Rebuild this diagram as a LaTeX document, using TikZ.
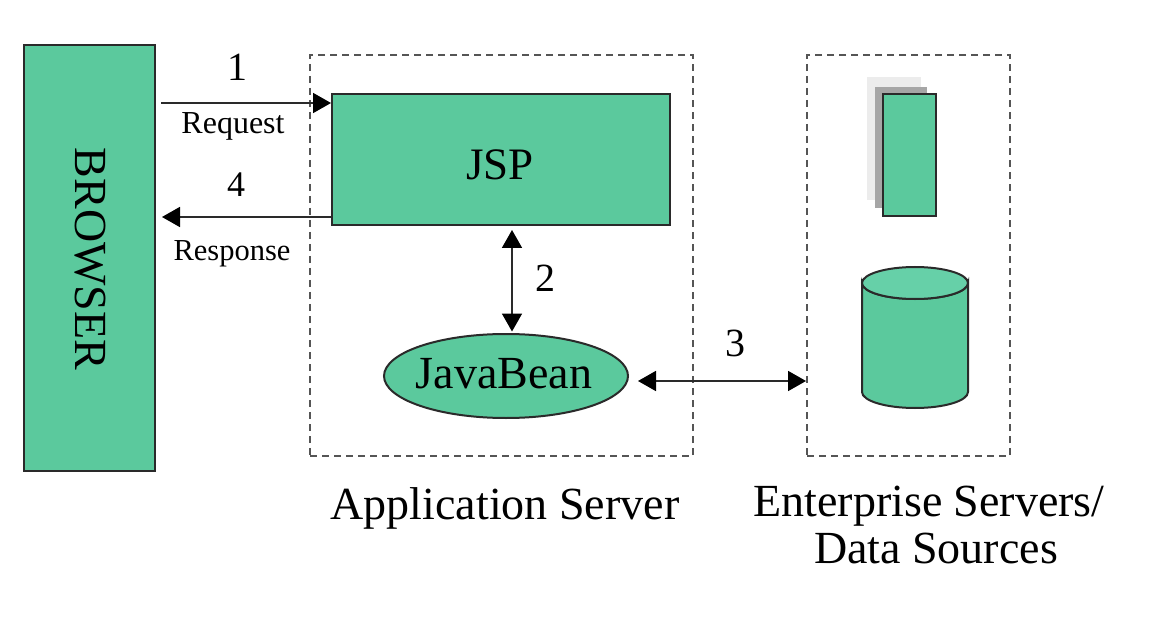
\documentclass[tikz,border=0pt]{standalone}
\usepackage{fontspec}
\setmainfont{Liberation Serif}
\usetikzlibrary{arrows.meta,shapes.geometric}
\definecolor{grn}{HTML}{5BC99D}
\definecolor{grnl}{HTML}{66D0A8}
\definecolor{ln}{HTML}{2A2A2A}
\definecolor{dsh}{HTML}{555555}
\tikzset{x=1pt,y=-1pt,
 box/.style={draw=ln,fill=grn,line width=2pt,inner sep=0pt},
 dashbox/.style={draw=dsh,line width=2pt,dash pattern=on 7pt off 5pt},
 conn/.style={draw=ln,line width=1.8pt,{Triangle[length=18pt,width=20pt,color=black]}-{Triangle[length=18pt,width=20pt,color=black]}},
 conr/.style={draw=ln,line width=1.8pt,-{Triangle[length=18pt,width=20pt,color=black]}},
 txt/.style={inner sep=0pt,text=black}}
\begin{document}
\begin{tikzpicture}
\useasboundingbox (0,0) rectangle (1164,636);
\fill[white] (0,0) rectangle (1164,636);
\node[box,minimum width=131pt,minimum height=425pt] (browser) at (89,258) {};
\node[txt,rotate=-90,font=\fontsize{46}{46}\selectfont] (browserlabel) at (90,259) {BROWSER};
\node[dashbox,minimum width=383pt,minimum height=401pt] (app) at (501.5,255.5) {};
\node[dashbox,minimum width=203pt,minimum height=401pt] (ent) at (908.5,255.5) {};
\node[box,minimum width=338pt,minimum height=131pt] (jsp) at (501,159.5) {};
\node[txt,font=\fontsize{45}{45}\selectfont] (jsplabel) at (500,165) {JSP};
\node[box,ellipse,minimum width=244pt,minimum height=84pt] (bean) at (506,376) {};
\node[txt,font=\fontsize{46}{46}\selectfont] (beanlabel) at (504,374) {JavaBean};
\fill[gray!15] (867,77) rectangle (921,200);
\fill[gray!70] (875,87) rectangle (927,208);
\node[box,minimum width=53pt,minimum height=122pt] (doc) at (909.5,155) {};
\path[box] (862,283) -- (862,392) arc[start angle=180,end angle=0,x radius=53,y radius=16] -- (968,283) arc[start angle=0,end angle=180,x radius=53,y radius=16] -- cycle;
\path[box,fill=grnl] (915,283) ellipse[x radius=53,y radius=16];
\coordinate (r0) at (161,103);
\coordinate (s1) at (162,217);
\coordinate (jx) at (512,300);
\coordinate (e0) at (638,381);
\draw[conr] (r0) -- (r0 -| jsp.west);
\draw[conr] (s1 -| jsp.west) -- (s1);
\draw[conn] ([yshift=-4pt]jx |- jsp.south) -- ([yshift=1.5pt]jx |- bean.north);
\draw[conn] (e0) -- (e0 -| ent.west);
\node[txt,font=\fontsize{40}{40}\selectfont] (n1) at (237,67) {1};
\node[txt,font=\fontsize{32}{32}\selectfont] (req) at (233,126) {Request};
\node[txt,font=\fontsize{36}{36}\selectfont] (n4) at (236,185) {4};
\node[txt,font=\fontsize{30.5}{30.5}\selectfont] (resp) at (232,254) {Response};
\node[txt,font=\fontsize{40}{40}\selectfont] (n2) at (545,278) {2};
\node[txt,font=\fontsize{40}{40}\selectfont] (n3) at (735,343) {3};
\node[txt,font=\fontsize{46}{46}\selectfont] (applabel) at (505,508) {Application Server};
\node[txt,font=\fontsize{46}{46}\selectfont] (entlabel) at (929,506) {Enterprise Servers/};
\node[txt,font=\fontsize{46}{46}\selectfont] (dslabel) at (936,548) {Data Sources};
\end{tikzpicture}
\end{document}
